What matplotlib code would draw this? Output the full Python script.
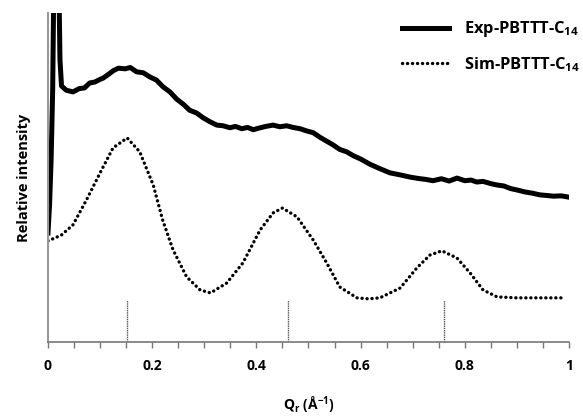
import numpy as np
import matplotlib.pyplot as plt

plt.rcParams['font.family'] = ['Open Sans', 'DejaVu Sans']
plt.rcParams['font.weight'] = 'bold'
plt.rcParams['mathtext.fontset'] = 'custom'
plt.rcParams['mathtext.rm'] = 'Open Sans:bold'
plt.rcParams['mathtext.it'] = 'Open Sans:bold'
plt.rcParams['mathtext.default'] = 'rm'

exp_q = [0, 0.003, 0.006, 0.009, 0.012, 0.02, 0.023, 0.026, 0.035, 0.048, 0.06,
         0.07, 0.08, 0.09, 0.1, 0.106, 0.115, 0.125, 0.135, 0.148, 0.158, 0.17,
         0.183, 0.196, 0.208, 0.221, 0.234, 0.247, 0.26, 0.272, 0.285, 0.298,
         0.31, 0.324, 0.336, 0.349, 0.36, 0.372, 0.383, 0.394, 0.405, 0.418,
         0.432, 0.445, 0.458, 0.47, 0.484, 0.497, 0.509, 0.522, 0.535, 0.547,
         0.56, 0.573, 0.586, 0.6, 0.618, 0.635, 0.656, 0.675, 0.695, 0.71,
         0.725, 0.739, 0.755, 0.77, 0.785, 0.8, 0.812, 0.823, 0.835, 0.85,
         0.862, 0.875, 0.888, 0.9, 0.915, 0.93, 0.944, 0.958, 0.97, 0.985, 0.996]
exp_i = [0.331, 0.416, 0.553, 0.766, 1.2, 1.2, 0.857, 0.778, 0.765, 0.760, 0.770,
         0.772, 0.787, 0.790, 0.798, 0.802, 0.812, 0.824, 0.832, 0.830, 0.834,
         0.821, 0.818, 0.805, 0.796, 0.775, 0.760, 0.738, 0.722, 0.704, 0.696,
         0.681, 0.670, 0.659, 0.657, 0.651, 0.655, 0.648, 0.652, 0.645, 0.650,
         0.655, 0.659, 0.654, 0.657, 0.652, 0.648, 0.641, 0.636, 0.622, 0.610,
         0.599, 0.585, 0.578, 0.566, 0.556, 0.540, 0.528, 0.514, 0.508, 0.501,
         0.497, 0.494, 0.490, 0.496, 0.489, 0.498, 0.490, 0.492, 0.486, 0.488,
         0.481, 0.477, 0.474, 0.466, 0.462, 0.456, 0.452, 0.447, 0.445, 0.443,
         0.444, 0.441]

# simulated curve
sim_q = [0, 0.026, 0.048, 0.074, 0.1, 0.125, 0.152, 0.176, 0.202, 0.22, 0.24,
         0.266, 0.292, 0.312, 0.343, 0.374, 0.407, 0.432, 0.45, 0.478, 0.509,
         0.535, 0.56, 0.593, 0.615, 0.637, 0.676, 0.708, 0.733, 0.756, 0.785,
         0.81, 0.835, 0.862, 0.9, 0.931, 0.99]
sim_i = [0.307, 0.325, 0.356, 0.432, 0.514, 0.590, 0.620, 0.578, 0.477, 0.371,
         0.280, 0.198, 0.158, 0.149, 0.179, 0.240, 0.340, 0.392, 0.407, 0.380,
         0.310, 0.240, 0.167, 0.134, 0.131, 0.134, 0.164, 0.225, 0.264, 0.277,
         0.255, 0.210, 0.158, 0.137, 0.134, 0.134, 0.134]

# peak positions
peak_q = [0.152, 0.46, 0.76]
peak_h = 0.128

fig = plt.figure(figsize=(5.83, 4.16), dpi=100)
ax = fig.add_axes([0.0823, 0.178, 0.8937, 0.791])

ax.plot(exp_q, exp_i, color='black', lw=3.6, solid_joinstyle='round',
        label='Exp-PBTTT-C$_{14}$')
ax.plot(sim_q, sim_i, color='black', lw=2.4, linestyle=(0, (0.05, 1.45)),
        dash_capstyle='round', label='Sim-PBTTT-C$_{14}$')
for q in peak_q:
    ax.plot([q, q], [0, peak_h], color='#555555', lw=1.0, linestyle=(0, (1, 0.6)))

ax.set_xlim(0, 1)
ax.set_ylim(0, 1)
ax.set_xticks([0, 0.2, 0.4, 0.6, 0.8, 1])
ax.set_xticklabels(['0', '0.2', '0.4', '0.6', '0.8', '1'])
ax.set_xticks(np.arange(0, 1.01, 0.05), minor=True)
ax.set_yticks([])
ax.tick_params(axis='x', which='both', direction='out', length=4, width=1,
               color='#777777', labelsize=10, pad=8)

for s in ['top', 'right']:
    ax.spines[s].set_visible(False)
ax.spines['left'].set_color('#999999')
ax.spines['left'].set_linewidth(1.5)
ax.spines['bottom'].set_color('#777777')
ax.spines['bottom'].set_linewidth(1.2)

ax.set_xlabel('Q$_r$ (Å$^{-1}$)', fontsize=10, fontweight='bold', labelpad=16)
ax.set_ylabel('Relative intensity', fontsize=10.5, fontweight='bold', labelpad=12)

ax.legend(loc='upper left', bbox_to_anchor=(0.651, 1.025), frameon=False,
          handlelength=2.85, handletextpad=0.95, labelspacing=0.95,
          prop={'weight': 'bold', 'size': 11.8})

fig.savefig('out.png', dpi=100)
